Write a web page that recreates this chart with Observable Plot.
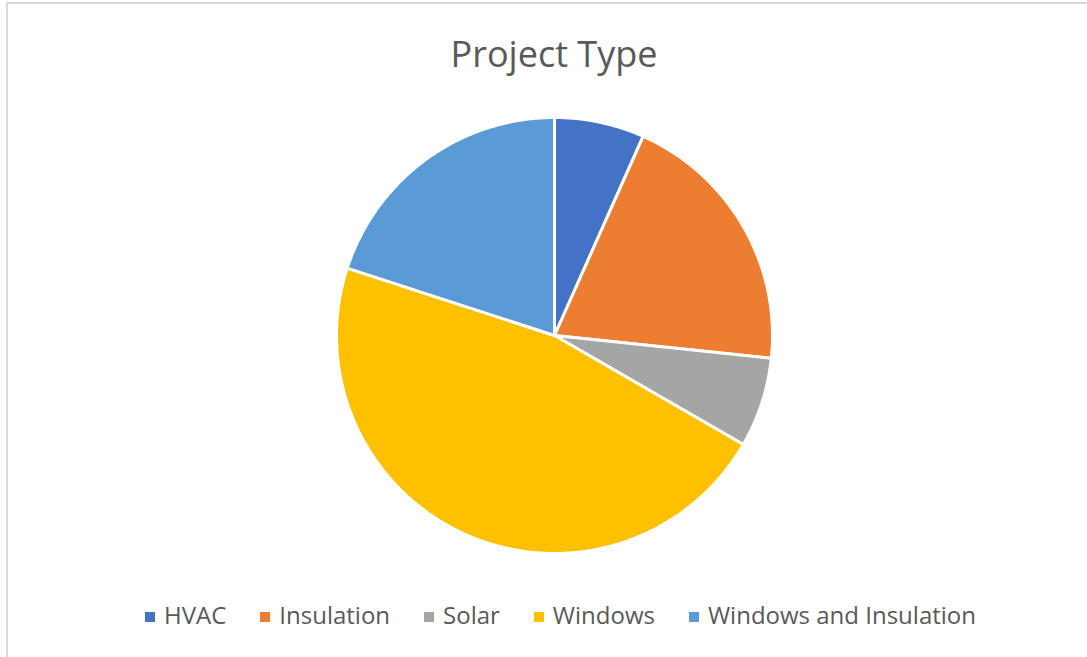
<!DOCTYPE html>
<html>
<head>
<meta charset="utf-8">
<script src="https://cdn.jsdelivr.net/npm/d3@7"></script>
<script src="https://cdn.jsdelivr.net/npm/@observablehq/plot@0.6"></script>
<style>
  html, body { margin: 0; padding: 0; background: #fff; }
  #wrap { position: relative; width: 1087px; height: 657px; overflow: hidden; font-family: "Open Sans", sans-serif; }
  #frame { position: absolute; left: 6px; top: 2px; right: -10px; bottom: -10px; border-top: 2px solid #d9d9d9; border-left: 2px solid #d9d9d9; }
  #title { position: absolute; top: 36px; left: 0; width: 1108px; text-align: center; font-size: 36px; line-height: 1; color: #595959; }
  #chart { position: absolute; top: 100px; left: 0; }
  #legend { position: absolute; top: 603px; left: 17px; width: 1087px; display: flex; justify-content: center; align-items: center; font-size: 24px; line-height: 1; color: #595959; }
  .item { display: flex; align-items: center; margin: 0 17px; }
  .sw { width: 10px; height: 10px; margin-right: 9px; margin-top: 3px; }
</style>
</head>
<body>
<div id="wrap">
  <div id="frame"></div>
  <div id="title">Project Type</div>
  <div id="chart"></div>
  <div id="legend"></div>
</div>
<script>
const categories = ["HVAC", "Insulation", "Solar", "Windows", "Windows and Insulation"];
const counts = [1, 3, 1, 7, 3];
const colors = ["#4472C4", "#ED7D31", "#A5A5A5", "#FFC000", "#5B9BD5"];
const titleText = "Project Type";

document.getElementById("title").textContent = titleText;

// build slice outlines (unit circle, clockwise from 12 o'clock) from the pie layout
const arcs = d3.pie().sort(null).value(d => d)(counts);
const rows = [];
arcs.forEach((a, i) => {
  const cat = categories[i];
  rows.push({cat, x: 0, y: 0});
  const n = Math.max(2, Math.ceil((a.endAngle - a.startAngle) / 0.01));
  for (let k = 0; k <= n; k++) {
    const t = a.startAngle + (a.endAngle - a.startAngle) * k / n;
    rows.push({cat, x: Math.sin(t), y: Math.cos(t)});
  }
});

const W = 1087, H = 470, cx = 554, cy = 235, R = 218;
const plot = Plot.plot({
  width: W,
  height: H,
  margin: 0,
  x: {domain: [-cx / R, (W - cx) / R], axis: null},
  y: {domain: [-(H - cy) / R, cy / R], axis: null},
  color: {domain: categories, range: colors},
  marks: [
    Plot.line(rows, {
      x: "x", y: "y", z: "cat", fill: "cat",
      stroke: "white", strokeWidth: 3, strokeLinejoin: "round",
      curve: "linear-closed"
    })
  ]
});
document.getElementById("chart").appendChild(plot);

const legend = document.getElementById("legend");
categories.forEach((c, i) => {
  const item = document.createElement("div");
  item.className = "item";
  const sw = document.createElement("span");
  sw.className = "sw";
  sw.style.background = plot.scale("color").apply(c);
  const lab = document.createElement("span");
  lab.textContent = c;
  item.appendChild(sw);
  item.appendChild(lab);
  legend.appendChild(item);
});
</script>
</body>
</html>
